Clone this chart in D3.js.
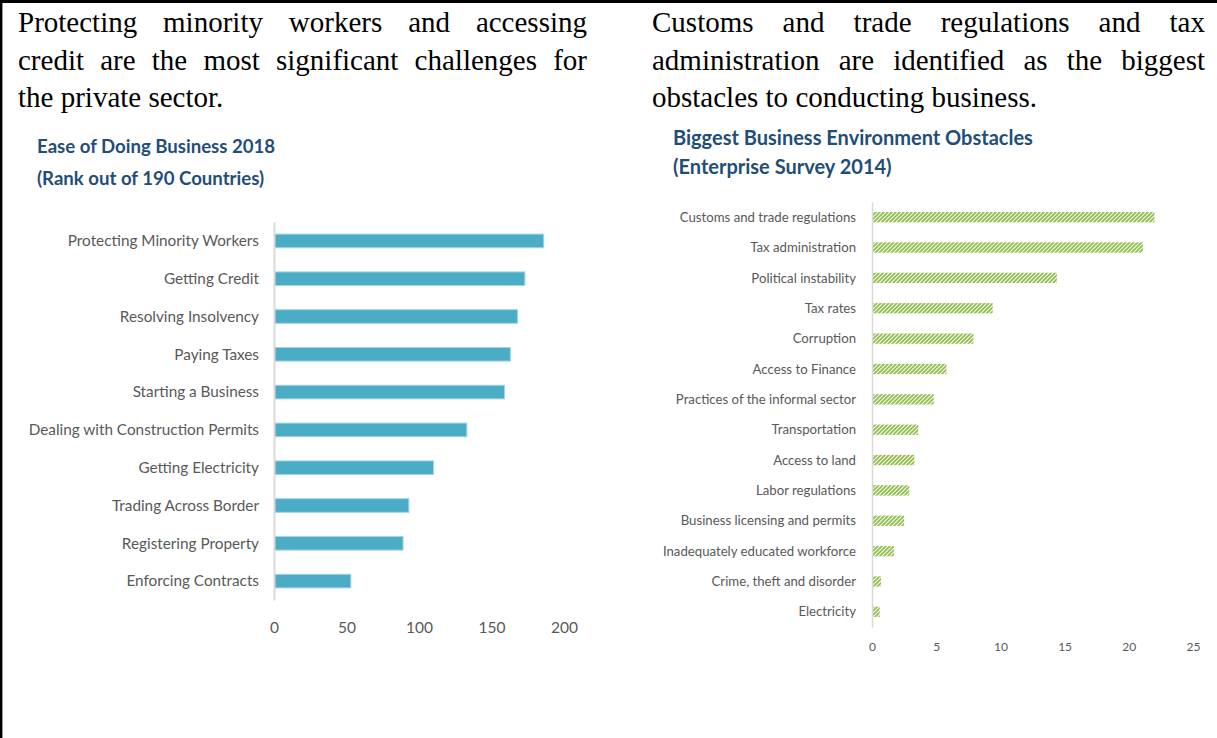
<!DOCTYPE html>
<html>
<head>
<meta charset="utf-8">
<script src="https://cdn.jsdelivr.net/npm/d3@7"></script>
<style>
  html, body { margin: 0; padding: 0; background: #fff; }
  svg { display: block; }
</style>
</head>
<body>
<svg id="page" width="1217" height="738"></svg>
<script>
// Left panel: Ease of Doing Business 2018 ranks
const ebCategories = [
  "Protecting Minority Workers", "Getting Credit", "Resolving Insolvency",
  "Paying Taxes", "Starting a Business", "Dealing with Construction Permits",
  "Getting Electricity", "Trading Across Border", "Registering Property",
  "Enforcing Contracts"
];
const ebRanks = [186, 173, 168, 163, 159, 133, 110, 93, 89, 53];
const ebTicks = [0, 50, 100, 150, 200];

// Right panel: Enterprise Survey 2014 obstacles (% of firms)
const esCategories = [
  "Customs and trade regulations", "Tax administration", "Political instability",
  "Tax rates", "Corruption", "Access to Finance", "Practices of the informal sector",
  "Transportation", "Access to land", "Labor regulations",
  "Business licensing and permits", "Inadequately educated workforce",
  "Crime, theft and disorder", "Electricity"
];
const esShares = [22.0, 21.1, 14.4, 9.4, 7.9, 5.8, 4.8, 3.6, 3.3, 2.9, 2.5, 1.7, 0.7, 0.6];
const esTicks = [0, 5, 10, 15, 20, 25];

// Introductory sentences above each chart
const leftLines = [
  "Protecting minority workers and accessing",
  "credit are the most significant challenges for",
  "the private sector."
];
const rightLines = [
  "Customs and trade regulations and tax",
  "administration are identified as the biggest",
  "obstacles to conducting business."
];

const svg = d3.select("#page");
const LABEL_FONT = "Lato, 'Open Sans', sans-serif";
const TITLE_COLOR = "#1F4E79";
const LABEL_COLOR = "#595959";

// Hatch pattern for the survey bars
const defs = svg.append("defs");
const hatch = defs.append("pattern")
  .attr("id", "greenHatch")
  .attr("patternUnits", "userSpaceOnUse")
  .attr("width", 4).attr("height", 4);
hatch.append("rect").attr("width", 4).attr("height", 4).attr("fill", "#ffffff");
hatch.append("path")
  .attr("d", "M-1,1 l2,-2 M0,4 l4,-4 M3,5 l2,-2")
  .attr("stroke", "#92BE4F").attr("stroke-width", 1.9);

// Page frame: top and left rules
svg.append("line").attr("x1", 0).attr("x2", 1217).attr("y1", 1.5).attr("y2", 1.5)
  .attr("stroke", "#000").attr("stroke-width", 3);
svg.append("line").attr("x1", 1.2).attr("x2", 1.2).attr("y1", 0).attr("y2", 738)
  .attr("stroke", "#000").attr("stroke-width", 2.4);

// Justified paragraph: words are placed one by one so each full line spans the column
function paragraph(lines, x0, x1, y0, lineH) {
  const g = svg.append("g")
    .attr("font-family", "'Liberation Serif', 'Times New Roman', serif")
    .attr("font-size", 29).attr("fill", "#000");
  lines.forEach((line, i) => {
    const words = line.split(" ");
    const y = y0 + i * lineH;
    const nodes = words.map(w => g.append("text").attr("y", y).text(w));
    const widths = nodes.map(n => n.node().getComputedTextLength());
    const total = d3.sum(widths);
    const last = i === lines.length - 1;
    const space = last ? 7.25 : (x1 - x0 - total) / (words.length - 1);
    let x = x0;
    nodes.forEach((n, k) => { n.attr("x", x); x += widths[k] + space; });
  });
}
paragraph(leftLines, 18, 587, 32, 37.5);
paragraph(rightLines, 652, 1205, 32, 37.5);

// Chart titles
function title(lines, x, y0, lineH, size) {
  const t = svg.append("g")
    .attr("font-family", LABEL_FONT).attr("font-weight", 700)
    .attr("font-size", size).attr("fill", TITLE_COLOR);
  lines.forEach((l, i) => t.append("text").attr("x", x).attr("y", y0 + i * lineH).text(l));
}
title(["Ease of Doing Business 2018", " (Rank out of 190 Countries)"], 37, 153, 32, 18.6);
title(["Biggest Business Environment Obstacles", "(Enterprise Survey 2014)"], 673, 145, 29, 20);

// ---- Left chart ----
const xL = d3.scaleLinear().domain([0, 200]).range([274, 564]);
const yL = d3.scaleBand().domain(ebCategories).range([222, 600]).paddingInner(0.64).paddingOuter(0.32);

const left = svg.append("g");
left.selectAll("rect.bar").data(ebCategories).join("rect")
  .attr("class", "bar")
  .attr("x", xL(0) + 0.5)
  .attr("y", d => yL(d))
  .attr("width", (d, i) => xL(ebRanks[i]) - xL(0) - 0.5)
  .attr("height", yL.bandwidth())
  .attr("fill", "#4BACC6")
  .attr("stroke", "#a3d4e3").attr("stroke-width", 1);

const yAxisL = left.append("g").attr("transform", `translate(${xL(0)},0)`)
  .call(d3.axisLeft(yL).tickSize(0).tickPadding(15));
yAxisL.select(".domain").attr("stroke", "#d9d9d9").attr("stroke-width", 2);
yAxisL.selectAll("text").attr("font-family", LABEL_FONT).attr("font-size", 15.3)
  .attr("fill", LABEL_COLOR).attr("dy", "0.35em");

const xAxisL = left.append("g").attr("transform", "translate(0,600)")
  .call(d3.axisBottom(xL).tickValues(ebTicks).tickSize(0).tickPadding(22));
xAxisL.select(".domain").remove();
xAxisL.selectAll("text").attr("font-family", LABEL_FONT).attr("font-size", 15.5)
  .attr("fill", LABEL_COLOR);

// ---- Right chart ----
const xR = d3.scaleLinear().domain([0, 25]).range([872, 1193]);
const yR = d3.scaleBand().domain(esCategories).range([202, 627]).paddingInner(0.66).paddingOuter(0.33);

const right = svg.append("g");
right.selectAll("rect.bar").data(esCategories).join("rect")
  .attr("class", "bar")
  .attr("x", xR(0) + 1)
  .attr("y", d => yR(d))
  .attr("width", (d, i) => xR(esShares[i]) - xR(0) - 1)
  .attr("height", yR.bandwidth())
  .attr("fill", "url(#greenHatch)");

const yAxisR = right.append("g").attr("transform", `translate(${xR(0)},0)`)
  .call(d3.axisLeft(yR).tickSize(0).tickPadding(16));
yAxisR.select(".domain").attr("stroke", "#d9d9d9").attr("stroke-width", 1.5);
yAxisR.selectAll("text").attr("font-family", LABEL_FONT).attr("font-size", 13.2)
  .attr("fill", LABEL_COLOR).attr("dy", "0.35em");

const xAxisR = right.append("g").attr("transform", "translate(0,627)")
  .call(d3.axisBottom(xR).tickValues(esTicks).tickSize(0).tickPadding(15));
xAxisR.select(".domain").remove();
xAxisR.selectAll("text").attr("font-family", LABEL_FONT).attr("font-size", 12)
  .attr("fill", LABEL_COLOR);
</script>
</body>
</html>
